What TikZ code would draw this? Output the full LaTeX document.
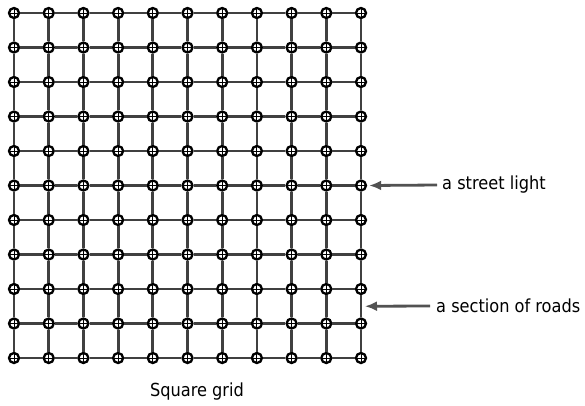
\documentclass[tikz,border=0pt]{standalone}
\usepackage{fontspec}
\setmainfont{DejaVu Sans Condensed}
\usetikzlibrary{arrows.meta, calc}

\tikzset{
    light/.style={circle, draw, line width=2.3pt, fill=white, minimum size=10pt, inner sep=0pt,
        path picture={\draw[line width=0.9pt]
            (path picture bounding box.north) -- (path picture bounding box.south)
            (path picture bounding box.west) -- (path picture bounding box.east);}},
    road/.style={line width=2.8pt, black!75},
    pointer/.style={line width=2.8pt, black!68, -{Latex[length=12pt, width=10pt]}},
    label/.style={font=\fontsize{18}{21}\selectfont, anchor=west, inner sep=0pt}
}

\begin{document}
\begin{tikzpicture}[x=1pt, y=-1pt]
        \useasboundingbox (0,0) rectangle (585,405);

        % Street lights
        \foreach \i in {0,...,10} {
            \foreach \j in {0,...,10} {
                \node[light] (n-\i-\j) at (14+34.7*\i, 13+34.5*\j) {};
            }
        }

        % Roads
        \foreach \i [count=\k from 1] in {0,...,9} {
            \foreach \j in {0,...,10} {
                \draw[road] (n-\i-\j) -- (n-\k-\j);
                \draw[road] (n-\j-\i) -- (n-\j-\k);
            }
        }

        % Labels
        \node[label] (lamp) at (442,185) {a street light};
        \node[label] (section) at (436,306) {a section of roads};
        \node[font=\fontsize{18}{21}\selectfont] (title) at (197,392) {Square grid};

        % Arrows
        \coordinate (mid) at ($(n-10-8)!0.5!(n-10-9)$);
        \draw[pointer] ([xshift=-5pt]lamp.west) -- ([xshift=2pt]n-10-5.east);
        \draw[pointer] ([xshift=-6pt]section.west) -- ([xshift=4pt]mid);
    \end{tikzpicture}
\end{document}
